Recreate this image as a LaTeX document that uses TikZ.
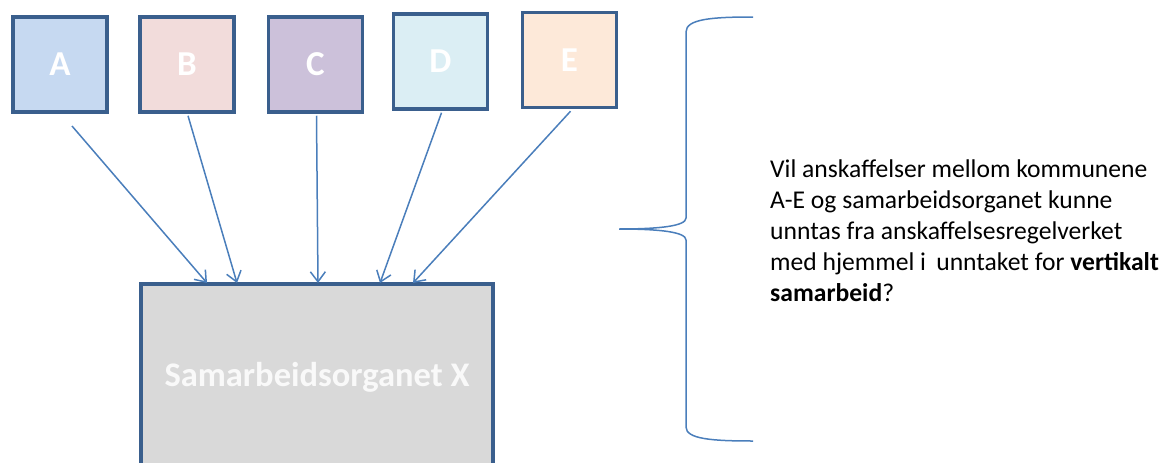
\documentclass[tikz,border=0pt]{standalone}
\usepackage{fontspec}
\setmainfont{Carlito}
\usetikzlibrary{arrows.meta}
\definecolor{bordc}{HTML}{3A5F8D}
\definecolor{linec}{HTML}{4A7EBB}
\definecolor{fA}{HTML}{C6D9F1}
\definecolor{fB}{HTML}{F2DCDB}
\definecolor{fC}{HTML}{CCC1DA}
\definecolor{fD}{HTML}{DBEEF4}
\definecolor{fE}{HTML}{FDE9D9}
\definecolor{fX}{HTML}{D9D9D9}
\tikzset{
  sq/.style={draw=bordc, line width=3.5pt, minimum width=94pt, minimum height=95pt, inner sep=0pt,
             text=white, font=\bfseries\fontsize{35}{40}\selectfont},
  conn/.style={draw=linec, line width=1.5pt, -{Straight Barb[length=10pt,width=15pt,line width=1.5pt]}},
  brace/.style={draw=linec, line width=1.5pt},
}
\begin{document}
\begin{tikzpicture}[x=1pt,y=-1pt]
\useasboundingbox (0,0) rectangle (1168,463);
\clip (0,0) rectangle (1168,463);
\node[sq, fill=fA] (A) at (60,64.5) {A};
\node[sq, fill=fB] (B) at (187,64.5) {B};
\node[sq, fill=fC] (C) at (315.5,64.5) {C};
\node[sq, fill=fD] (D) at (440.5,61.5) {D};
\node[sq, fill=fE] (E) at (569.5,60) {E};
\draw[draw=bordc, line width=3.5pt, fill=fX] (141,284) rectangle (493,480);
\node[text=white!95!gray, font=\bfseries\fontsize{34.5}{40}\selectfont] (X) at (317,377) {Samarbeidsorganet X};
\coordinate (tA) at (207,283);
\coordinate (tB) at (237,283);
\coordinate (tC) at (318,283);
\coordinate (tD) at (380,283);
\coordinate (tE) at (413,283);
\draw[conn] (72,126) -- (tA);
\draw[conn] (B.south) ++(1,2) -- (tB);
\draw[conn] (C.south) ++(1,2) -- (tC);
\draw[conn] (D.south) ++(1,2) -- (tD);
\draw[conn] (E.south) ++(1,2) -- (tE);
\draw[brace] (753,17) .. controls (712,17) and (686,19) .. (686,32)
  -- (686,218) .. controls (686,226) and (660,229) .. (619,229)
  .. controls (660,229) and (686,232) .. (686,240)
  -- (686,427) .. controls (686,439) and (712,441) .. (753,441);
\node[anchor=base west, align=left, inner sep=0pt, font=\fontsize{25.6}{31}\selectfont] (T) at (770,301)
{Vil anskaffelser mellom kommunene\\
A-E og samarbeidsorganet kunne\\
unntas fra anskaffelsesregelverket\\
med hjemmel i\hspace{0.4em}unntaket for \textbf{vertikalt}\\
\textbf{samarbeid}?};
\end{tikzpicture}
\end{document}
